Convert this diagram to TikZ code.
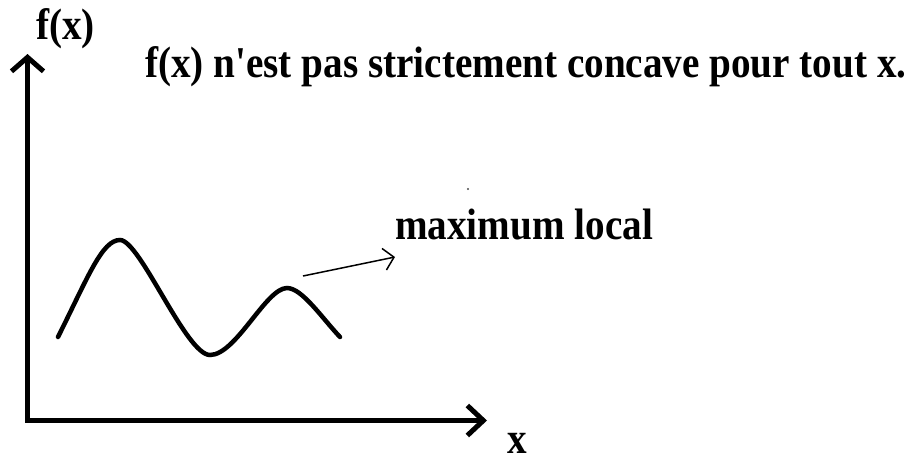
\documentclass[tikz,border=0pt]{standalone}
\usepackage{fontspec}
\setmainfont{Liberation Serif}
\usepackage{graphicx}
\usetikzlibrary{arrows.meta}
\tikzset{
  lbl/.style={anchor=base west, inner sep=0pt, font=\bfseries\fontsize{44}{48}\selectfont},
  axis/.style={line width=5pt, line cap=rect},
  curve/.style={line width=4.5pt, line cap=round},
  pointer/.style={line width=1.5pt}
}
\newcommand{\sq}[1]{\scalebox{0.89}[1]{#1}}
\begin{document}
\begin{tikzpicture}[x=1pt,y=-1pt]
\useasboundingbox[fill=white] (0,0) rectangle (913,461);
% axes
\coordinate (o) at (27.5,420.5);
\coordinate (ytip) at (27.5,54);
\coordinate (xtip) at (487,420.5);
\draw[axis,-{Straight Barb[length=14pt,width=32pt]}] (o) -- (ytip);
\draw[axis,-{Straight Barb[length=16pt,width=30pt]}] (o) -- (xtip);
% labels
\node[lbl] (fx) at (36,39) {\sq{f(x)}};
\node[lbl] (title) at (145,77) {\sq{f(x) n\textquotesingle est pas strictement concave pour tout x.}};
\node[lbl] (xl) at (507,453) {\sq{x}};
\node[lbl] (ml) at (395,239) {\sq{maximum local}};
% curve
\draw[curve] (58,337) .. controls (88,277) and (102,240) .. (120,240)
  .. controls (140,240) and (186,355) .. (210,355)
  .. controls (236,355) and (266,288) .. (287,288)
  .. controls (302,288) and (322,318) .. (340,337);
% pointer arrow
\coordinate (ps) at (303,276);
\coordinate (pe) at (395,257);
\draw[pointer,-{Straight Barb[length=10pt,width=22pt]}] (ps) -- (pe);
% stray dot
\fill[black!70] (468,189) circle (1.2pt);
\end{tikzpicture}
\end{document}
